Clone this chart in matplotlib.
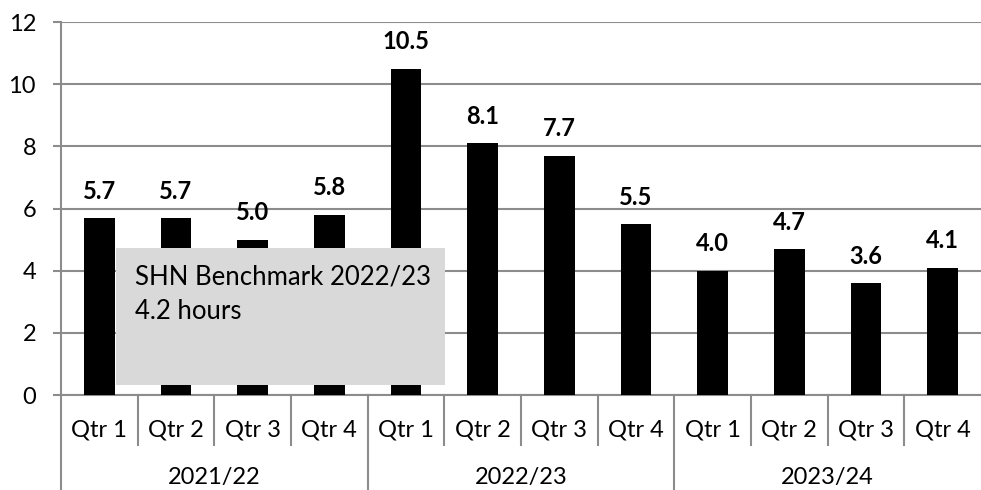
import matplotlib
matplotlib.use("Agg")
import matplotlib.pyplot as plt
import matplotlib.transforms as mtransforms
from matplotlib.patches import Rectangle

plt.rcParams['font.family'] = ['Lato', 'DejaVu Sans']

quarters = ["Qtr 1", "Qtr 2", "Qtr 3", "Qtr 4"] * 3
years = ["2021/22", "2022/23", "2023/24"]
values = [5.7, 5.7, 5.0, 5.8, 10.5, 8.1, 7.7, 5.5, 4.0, 4.7, 3.6, 4.1]
y_ticks = [0, 2, 4, 6, 8, 10, 12]
benchmark_text = "SHN Benchmark 2022/23\n4.2 hours"

grid_col = "#8c8c8c"
fs = 17

fig = plt.figure(figsize=(9.81, 4.90), dpi=100)
ax = fig.add_axes([61 / 981, (490 - 395) / 490, 920 / 981, 373 / 490])

n = len(values)
x = list(range(n))
ax.bar(x, values, width=0.4, color="black", zorder=3)
for xi, v in zip(x, values):
    ax.annotate(f"{v:.1f}", (xi, v), xytext=(0, 11), textcoords="offset points",
                ha="center", va="bottom", fontsize=fs, fontweight="bold")

ax.set_xlim(-0.5, n - 0.5)
ax.set_ylim(0, 12)
ax.set_yticks(y_ticks)
ax.set_yticklabels([str(t) for t in y_ticks], fontsize=fs)
ax.tick_params(axis="y", length=6, width=1.5, color=grid_col, pad=12)
ax.set_xticks([])
ax.grid(axis="y", color=grid_col, linewidth=1.5, zorder=0)
for s in ["top", "right"]:
    ax.spines[s].set_visible(False)
ax.spines["left"].set_color(grid_col)
ax.spines["left"].set_linewidth(1.5)
ax.spines["bottom"].set_color(grid_col)
ax.spines["bottom"].set_linewidth(1.5)

# Two-level category axis
trans = mtransforms.blended_transform_factory(ax.transData, ax.transAxes)
for xi, q in zip(x, quarters):
    ax.text(xi, -0.094, q, transform=trans, ha="center", va="center", fontsize=fs)
for i in range(1, n):
    if i % 4 == 0:
        continue
    ax.plot([i - 0.5, i - 0.5], [0, -0.134], transform=trans, color=grid_col,
            lw=1.5, clip_on=False)
for k in range(0, n, 4):
    ax.plot([k - 0.5, k - 0.5], [0, -0.26], transform=trans, color=grid_col,
            lw=1.5, clip_on=False)
for j, yr in enumerate(years):
    ax.text(4 * j + 1.5, -0.22, yr, transform=trans, ha="center", va="center", fontsize=fs)

# Benchmark note box
box_x0 = (116 - 61) / 920
box_x1 = (445 - 61) / 920
box_y0 = (395 - 385) / 373
box_y1 = (395 - 248) / 373
ax.add_patch(Rectangle((box_x0, box_y0), box_x1 - box_x0, box_y1 - box_y0,
                       transform=ax.transAxes, facecolor="#d9d9d9", edgecolor="none",
                       zorder=5))
ax.text(box_x0 + 19 / 920, box_y1 - 17 / 373, benchmark_text, transform=ax.transAxes,
        ha="left", va="top", fontsize=18.5, linespacing=1.45, zorder=6)

fig.savefig("out.png", dpi=100)
